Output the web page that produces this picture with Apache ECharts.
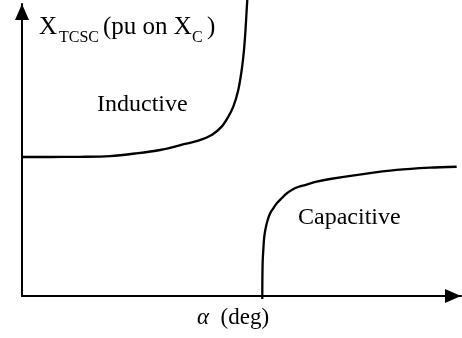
<!DOCTYPE html>
<html>
<head>
<meta charset="utf-8">
<script src="https://cdn.jsdelivr.net/npm/echarts@6/dist/echarts.min.js"></script>
<style>
  html, body { margin: 0; padding: 0; background: #fff; }
  #chart { width: 462px; height: 338px; }
</style>
</head>
<body>
<div id="chart"></div>
<script>
// Firing angle alpha (deg) and TCSC reactance (pu on X_C), inductive branch
const inductiveAlpha = [90.00, 95.74, 101.89, 108.04, 113.17, 118.29, 123.42, 126.14, 128.89, 130.94,
                        132.29, 133.32, 134.34, 135.04, 135.51, 135.82, 136.06, 136.19];
const inductiveX     = [1.428, 1.428, 1.430, 1.438, 1.464, 1.500, 1.562, 1.596, 1.654, 1.740,
                        1.842, 1.945, 2.117, 2.322, 2.527, 2.733, 2.938, 3.041];

// Capacitive branch
const capacitiveAlpha = [139.26, 139.28, 139.34, 139.47, 139.67, 139.96, 140.37, 140.90, 141.52, 142.28, 143.24,
                         144.12, 145.29, 146.58, 148.02, 150.41, 153.14, 159.91, 166.81, 173.64, 179.11];
const capacitiveX     = [-0.031, 0.164, 0.349, 0.473, 0.609, 0.699, 0.781, 0.853, 0.901, 0.955, 1.004,
                         1.048, 1.089, 1.120, 1.140, 1.174, 1.202, 1.253, 1.295, 1.318, 1.328];

const pairs = (xs, ys) => xs.map((x, i) => [x, ys[i]]);

const FONT = '"Liberation Serif", "Times New Roman", serif';

const chart = echarts.init(document.getElementById('chart'), null, { renderer: 'canvas' });

// Solid triangular arrowheads whose tips sit at the axis ends
const axisLine = {
  show: true,
  onZero: false,
  symbol: ['none', 'triangle'],
  symbolSize: [14, 16],
  symbolOffset: [0, -8],
  lineStyle: { color: '#000', width: 2 }
};

function label(text, left, top, size, extra) {
  return {
    type: 'text', left: left, top: top,
    style: Object.assign({ text: text, fontFamily: FONT, fontSize: size, fill: '#000' }, extra || {})
  };
}

chart.setOption({
  animation: false,
  backgroundColor: '#fff',
  grid: { left: 22, right: 1, top: 4, bottom: 42 },
  xAxis: {
    type: 'value', min: 90, max: 180,
    axisLine: axisLine,
    axisTick: { show: false }, axisLabel: { show: false }, splitLine: { show: false }
  },
  yAxis: {
    type: 'value', min: 0, max: 3,
    axisLine: axisLine,
    axisTick: { show: false }, axisLabel: { show: false }, splitLine: { show: false }
  },
  series: [
    {
      type: 'line', data: pairs(inductiveAlpha, inductiveX),
      smooth: 0.3, showSymbol: false, clip: false,
      lineStyle: { color: '#000', width: 2.3 }
    },
    {
      type: 'line', data: pairs(capacitiveAlpha, capacitiveX),
      smooth: 0.3, showSymbol: false, clip: false,
      lineStyle: { color: '#000', width: 2.3 }
    }
  ],
  graphic: [
    // axis title: X_TCSC (pu on X_C)
    label('X', 39, 15, 25),
    label('TCSC', 59, 30, 16),
    label('(pu on X', 103, 15, 25),
    label('C', 192, 30, 16),
    label(')', 207, 15, 25),
    // region labels
    label('Inductive', 97, 93, 24),
    label('Capacitive', 298, 206, 24),
    // x-axis title
    {
      type: 'text', left: 197, top: 306,
      style: {
        text: '{a|α}{b|  (deg)}',
        rich: {
          a: { fontFamily: FONT, fontStyle: 'italic', fontSize: 23, fill: '#000' },
          b: { fontFamily: FONT, fontSize: 23, fill: '#000' }
        }
      }
    }
  ]
});
</script>
</body>
</html>
